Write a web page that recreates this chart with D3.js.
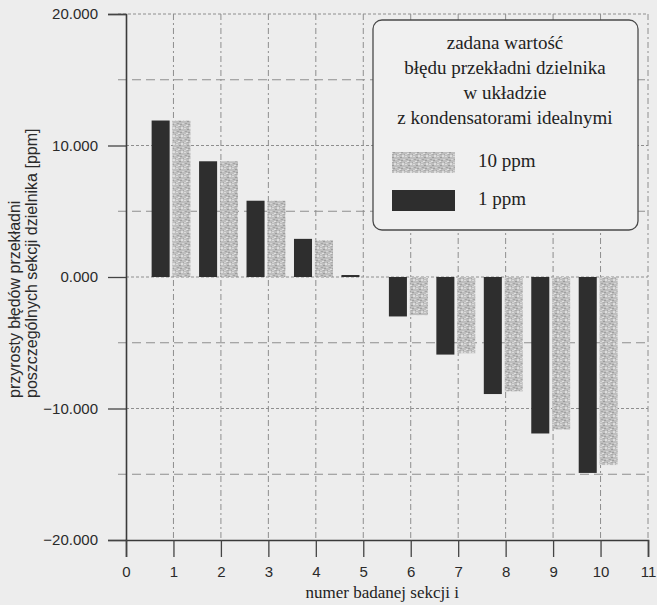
<!DOCTYPE html>
<html>
<head>
<meta charset="utf-8">
<script src="https://cdn.jsdelivr.net/npm/d3@7"></script>
<style>
  html, body { margin: 0; padding: 0; background: #ececec; }
  svg { display: block; }
</style>
</head>
<body>
<div id="chart"></div>
<script>
// sekcje dzielnika
var sections = [1, 2, 3, 4, 5, 6, 7, 8, 9, 10];
// 1 ppm (ciemne slupki)
var vals1ppm = [11.9, 8.8, 5.8, 2.9, 0.15, -3.0, -5.9, -8.9, -11.9, -14.9];
// 10 ppm (jasne, kropkowane slupki)
var vals10ppm = [11.9, 8.8, 5.8, 2.8, 0.0, -2.9, -5.8, -8.7, -11.6, -14.3];
var yTicks = [-20, -10, 0, 10, 20];
var yGrid = [-15, -10, -5, 0, 5, 10, 15, 20];
var xTicks = [0, 1, 2, 3, 4, 5, 6, 7, 8, 9, 10, 11];
var legendTitle = ["zadana wartość", "błędu przekładni dzielnika", "w układzie", "z kondensatorami idealnymi"];
var legendLabels = ["10 ppm", "1 ppm"];

var W = 657, H = 605;
var svg = d3.select("#chart").append("svg")
    .attr("width", W).attr("height", H);

svg.append("rect").attr("width", W).attr("height", H).attr("fill", "#ededed");

// speckled texture for the 10 ppm bars
var defs = svg.append("defs");
var pat = defs.append("pattern")
    .attr("id", "speckle")
    .attr("patternUnits", "userSpaceOnUse")
    .attr("width", 8).attr("height", 8);
pat.append("rect").attr("width", 8).attr("height", 8).attr("fill", "#bebebe");
var specks = [[0,0,"#dadada"],[3,1,"#9c9c9c"],[5,0,"#dedede"],[1,3,"#a4a4a4"],[6,3,"#d4d4d4"],
              [2,5,"#e0e0e0"],[4,4,"#a0a0a0"],[7,6,"#a8a8a8"],[0,6,"#d2d2d2"],[5,7,"#dcdcdc"],[3,6,"#aaaaaa"]];
specks.forEach(function(s) {
  pat.append("rect").attr("x", s[0]).attr("y", s[1]).attr("width", 2).attr("height", 1).attr("fill", s[2]);
});

var x = d3.scaleLinear().domain([0, 11]).range([126, 648]);
var y = d3.scaleLinear().domain([-20, 20]).range([540, 14]);

var fmt = d3.format(".3f");

// gridlines
var grid = svg.append("g").attr("class", "grid");
grid.selectAll("line.h").data(yGrid).enter().append("line")
    .attr("x1", function(d) { return d % 10 === 0 && d !== 20 ? x(0) : x(0) - 8; })
    .attr("x2", x(11))
    .attr("y1", function(d) { return y(d); })
    .attr("y2", function(d) { return y(d); })
    .attr("stroke", "#8e8e8e")
    .attr("stroke-width", 1)
    .attr("stroke-dasharray", function(d) { return d % 10 === 0 ? "3,2" : "9,5"; });
grid.selectAll("line.v").data(xTicks.slice(1)).enter().append("line")
    .attr("x1", function(d) { return x(d); })
    .attr("x2", function(d) { return x(d); })
    .attr("y1", y(20))
    .attr("y2", y(-20))
    .attr("stroke", "#8e8e8e")
    .attr("stroke-width", 1)
    .attr("stroke-dasharray", "6,3,2,3");

// bars
var bw = x(0.38) - x(0);
var bars = svg.append("g").attr("class", "bars");
bars.selectAll("rect.d").data(d3.zip(sections, vals1ppm)).enter().append("rect")
    .attr("x", function(v) { return x(v[0] - 0.46); })
    .attr("y", function(v) { return y(Math.max(0, v[1])); })
    .attr("width", bw)
    .attr("height", function(v) { return Math.max(1.5, Math.abs(y(v[1]) - y(0))); })
    .attr("fill", "#2e2e2e");
bars.selectAll("rect.l").data(d3.zip(sections, vals10ppm).filter(function(v) { return v[1] !== 0; }))
    .enter().append("rect")
    .attr("x", function(v) { return x(v[0] - 0.02); })
    .attr("y", function(v) { return y(Math.max(0, v[1])); })
    .attr("width", bw)
    .attr("height", function(v) { return Math.abs(y(v[1]) - y(0)); })
    .attr("fill", "url(#speckle)");

// axes
var yAxis = d3.axisLeft(y).tickValues(yTicks).tickFormat(fmt).tickSize(18).tickPadding(10);
var gy = svg.append("g").attr("transform", "translate(" + x(0) + ",0)").call(yAxis);
var xAxis = d3.axisBottom(x).tickValues(xTicks).tickFormat(d3.format("d")).tickSize(17).tickPadding(9);
var gx = svg.append("g").attr("transform", "translate(0," + y(-20) + ")").call(xAxis);
[gy, gx].forEach(function(g) {
  g.select(".domain").attr("stroke", "#3a3a3a").attr("stroke-width", 1.6);
  g.selectAll(".tick line").attr("stroke", "#444").attr("stroke-width", 1.3);
  g.selectAll("text").attr("fill", "#2a2a2a")
    .style("font-family", "'Liberation Sans', Arial, sans-serif").style("font-size", "15px");
});

// axis titles
svg.append("text")
    .attr("x", x(5.4)).attr("y", 598)
    .attr("text-anchor", "middle")
    .style("font-family", "'Liberation Serif', 'Times New Roman', serif").style("font-size", "17px")
    .attr("fill", "#222")
    .text("numer badanej sekcji i");

var yt = svg.append("text")
    .attr("transform", "translate(20,398) rotate(-90)")
    .style("font-family", "'Liberation Sans', Arial, sans-serif").style("font-size", "16px")
    .attr("fill", "#2a2a2a");
yt.append("tspan").attr("x", 0).attr("y", 0).text("przyrosty błędów przekładni");
yt.append("tspan").attr("x", 0).attr("y", 17).text("poszczególnych sekcji dzielnika [ppm]");

// legend
var lg = svg.append("g").attr("transform", "translate(373,20)");
lg.append("rect").attr("width", 265).attr("height", 210).attr("rx", 9)
    .attr("fill", "#f0f0f0").attr("stroke", "#4a4a4a").attr("stroke-width", 1.3);
lg.selectAll("text.t").data(legendTitle).enter().append("text")
    .attr("x", 132).attr("y", function(d, i) { return 29 + i * 25; })
    .attr("text-anchor", "middle")
    .style("font-family", "'Liberation Serif', 'Times New Roman', serif").style("font-size", "19px")
    .attr("fill", "#222")
    .text(function(d) { return d; });
var fills = ["url(#speckle)", "#2e2e2e"];
legendLabels.forEach(function(lab, i) {
  lg.append("rect").attr("x", 19).attr("y", 132 + i * 38).attr("width", 63).attr("height", 21)
      .attr("fill", fills[i]);
  lg.append("text").attr("x", 105).attr("y", 147 + i * 38)
      .style("font-family", "'Liberation Serif', 'Times New Roman', serif").style("font-size", "19px")
      .attr("fill", "#222")
      .text(lab);
});
</script>
</body>
</html>
